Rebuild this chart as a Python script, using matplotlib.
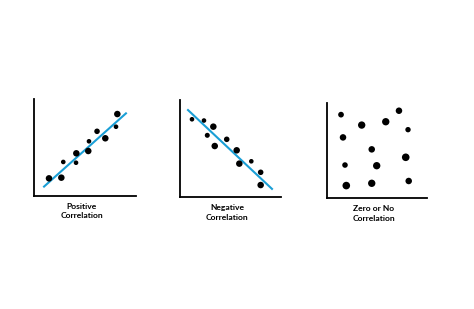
import matplotlib
matplotlib.use("Agg")
import matplotlib.pyplot as plt

# panel data (axis units 0..10)
pos_x = [1.47, 2.68, 2.87, 4.15, 4.12, 5.32, 5.39, 6.18, 6.99, 8.17, 8.04]
pos_y = [1.82, 1.89, 3.51, 4.40, 3.43, 4.64, 5.64, 6.67, 5.95, 8.45, 7.14]
pos_s = [22, 22, 11, 22, 11, 22, 11, 16, 22, 22, 11]
pos_line_x = [0.91, 9.09]
pos_line_y = [0.90, 8.59]

neg_x = [1.19, 2.38, 3.31, 2.71, 3.45, 4.64, 5.63, 5.89, 7.08, 8.01, 8.01]
neg_y = [8.02, 7.89, 7.26, 6.37, 5.27, 5.96, 4.83, 3.46, 3.70, 2.57, 1.26]
neg_s = [11, 11, 22, 13, 22, 16, 22, 22, 11, 16, 22]
neg_line_x = [0.72, 9.21]
neg_line_y = [9.04, 0.79]

zero_x = [1.38, 3.46, 5.88, 7.21, 8.12, 1.58, 4.47, 7.89, 1.78, 4.97, 1.91, 4.47, 8.19]
zero_y = [8.75, 7.66, 8.01, 9.16, 7.18, 6.37, 5.12, 4.29, 3.48, 3.41, 1.33, 1.57, 1.81]
zero_s = [17, 28, 28, 22, 15, 22, 22, 30, 16, 28, 30, 28, 22]

labels = ["Positive\nCorrelation", "Negative\nCorrelation", "Zero or No\nCorrelation"]

W, H = 474, 309
fig = plt.figure(figsize=(W / 100, H / 100), dpi=100)

# axes boxes in pixels: left, top, right, bottom
boxes = [(34, 99, 136, 196), (180, 100, 280.7, 197.3), (327.3, 102.7, 426.7, 198.3)]
panels = [
    (pos_x, pos_y, pos_s, pos_line_x, pos_line_y),
    (neg_x, neg_y, neg_s, neg_line_x, neg_line_y),
    (zero_x, zero_y, zero_s, None, None),
]

for box, panel, lab in zip(boxes, panels, labels):
    l, t, r, b = box
    ax = fig.add_axes([l / W, 1 - b / H, (r - l) / W, (b - t) / H])
    xs, ys, ss, lx, ly = panel
    if lx is not None:
        ax.plot(lx, ly, color="#1a9fd6", lw=1.5, zorder=2, solid_capstyle="butt")
    ax.scatter(xs, ys, s=ss, color="black", zorder=3, linewidths=0)
    ax.set_xlim(0, 10)
    ax.set_ylim(0, 10)
    ax.spines["top"].set_visible(False)
    ax.spines["right"].set_visible(False)
    for sp in ["left", "bottom"]:
        ax.spines[sp].set_linewidth(1.3)
        ax.spines[sp].set_color("black")
    ax.set_xticks([])
    ax.set_yticks([])
    ax.text(0.47, -0.07, lab, transform=ax.transAxes, ha="center", va="top",
            fontsize=6.1, family="Lato", weight="bold", linespacing=1.45)

fig.savefig("out.png", dpi=100)
